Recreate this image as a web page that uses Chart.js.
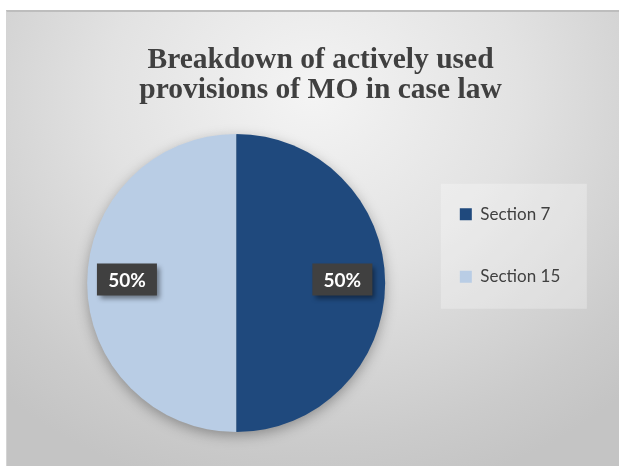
<!DOCTYPE html>
<html>
<head>
<meta charset="utf-8">
<script src="https://cdn.jsdelivr.net/npm/chart.js@4"></script>
<style>
  html, body { margin: 0; padding: 0; background: #fff; }
  #wrap {
    position: absolute; left: 6px; top: 10px; width: 613px; height: 456px;
    border-top: 2px solid #bdbdbd; border-left: 1px solid #d4d4d4; box-sizing: border-box;
    background: radial-gradient(ellipse 75% 90% at 50% 18%, #f4f4f4 0%, #e2e2e2 45%, #cbcbcb 85%, #c4c4c4 100%);
  }
  canvas { position: absolute; left: 0; top: 0; }
</style>
</head>
<body>
<div id="wrap"><canvas id="pie" width="612" height="454"></canvas></div>
<script>
const categories = ['Section 7', 'Section 15'];
const shares = [50, 50];
const sliceColors = ['#1F497D', '#B9CDE5'];
const titleLines = ['Breakdown of actively used', 'provisions of MO in case law'];

// soft shadow under the pie + lighter panel behind the legend
const decor = {
    id: 'decor',
    beforeDatasetsDraw(chart) {
        const ctx = chart.ctx;
        const arc = chart.getDatasetMeta(0).data[0];
        if (!arc) return;
        const { x, y, outerRadius } = arc.getProps(['x', 'y', 'outerRadius'], true);
        ctx.save();
        ctx.shadowColor = 'rgba(0,0,0,0.35)';
        ctx.shadowBlur = 14;
        ctx.shadowOffsetY = 4;
        ctx.beginPath();
        ctx.arc(x, y, outerRadius - 1, 0, Math.PI * 2);
        ctx.fillStyle = '#888';
        ctx.fill();
        ctx.restore();
    },
    beforeDraw(chart) {
        const lg = chart.legend;
        if (!lg || !lg.legendHitBoxes || !lg.legendHitBoxes.length) return;
        const hb = lg.legendHitBoxes;
        const ctx = chart.ctx;
        ctx.save();
        ctx.fillStyle = 'rgba(255,255,255,0.28)';
        ctx.fillRect(hb[0].left - 19, hb[0].top - 22, 146, 125);
        ctx.restore();
    }
};

// "50%" boxes on each slice
const sliceLabels = {
    id: 'sliceLabels',
    afterDatasetsDraw(chart) {
        const ctx = chart.ctx;
        const data = chart.data.datasets[0].data;
        const total = data.reduce((a, b) => a + b, 0);
        chart.getDatasetMeta(0).data.forEach((arc, i) => {
            const p = arc.getProps(['x', 'y', 'startAngle', 'endAngle', 'outerRadius'], true);
            const mid = (p.startAngle + p.endAngle) / 2;
            const cx = p.x + Math.cos(mid) * p.outerRadius * 0.723 - 1.5;
            const cy = p.y + Math.sin(mid) * p.outerRadius * 0.723 - 3.5;
            const txt = Math.round(data[i] / total * 100) + '%';
            const w = 60, h = 32;
            ctx.save();
            ctx.shadowColor = 'rgba(0,0,0,0.45)';
            ctx.shadowBlur = 5;
            ctx.shadowOffsetX = 3;
            ctx.shadowOffsetY = 3;
            ctx.fillStyle = '#404040';
            ctx.fillRect(cx - w / 2, cy - h / 2, w, h);
            ctx.restore();
            ctx.save();
            ctx.fillStyle = '#ffffff';
            ctx.font = 'bold 19px Lato, "Open Sans", sans-serif';
            ctx.textAlign = 'center';
            ctx.textBaseline = 'middle';
            ctx.fillText(txt, cx, cy + 1);
            ctx.restore();
        });
    }
};

new Chart(document.getElementById('pie'), {
    type: 'pie',
    data: {
        labels: categories,
        datasets: [{
            data: shares,
            backgroundColor: sliceColors,
            borderWidth: 0
        }]
    },
    options: {
        responsive: false,
        animation: false,
        rotation: 0,
        layout: { padding: { left: 51, right: 36, top: 0, bottom: 34 } },
        plugins: {
            title: {
                display: true,
                text: titleLines,
                color: '#404040',
                font: { family: '"Liberation Serif", "Times New Roman", serif', size: 29.5, weight: 'bold', lineHeight: '30px' },
                padding: { top: 33.5, bottom: 28.5 }
            },
            legend: {
                position: 'right',
                align: 'center',
                title: { display: true, text: ' ', font: { size: 10, lineHeight: 1 }, padding: 18.5 },
                labels: {
                    boxWidth: 12,
                    boxHeight: 12,
                    padding: 45.5,
                    color: '#404040',
                    font: { family: 'Lato, "Open Sans", sans-serif', size: 17 },
                    // em space widens the legend box so the title centres like the original
                    generateLabels(chart) {
                        return Chart.overrides.pie.plugins.legend.labels.generateLabels(chart)
                            .map(item => Object.assign(item, { text: item.text + '\u2003' }));
                    }
                }
            },
            tooltip: { enabled: false }
        }
    },
    plugins: [decor, sliceLabels]
});
</script>
</body>
</html>
